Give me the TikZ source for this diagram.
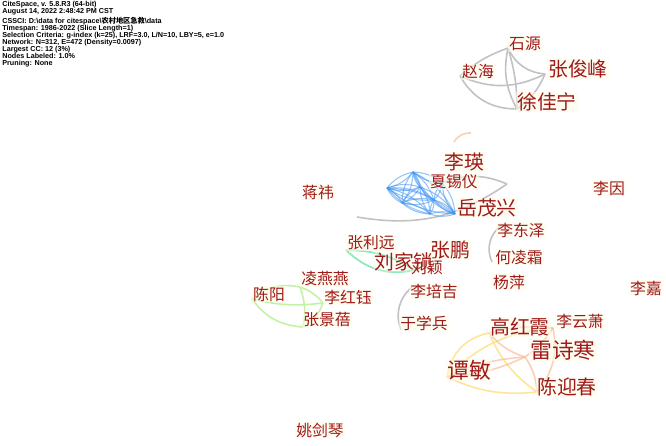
\documentclass[tikz,border=0pt]{standalone}
\usepackage{fontspec}
\setmainfont{Liberation Sans}
\newfontfamily\cjk{Noto Sans CJK SC}
\definecolor{labelred}{HTML}{9E1A1A}
\definecolor{labelbg}{HTML}{FFFDE8}
\definecolor{linkgray}{HTML}{C2C2C2}
\definecolor{linkblue}{HTML}{3F93F2}
\definecolor{linkgreen}{HTML}{C4F2A4}
\definecolor{linkmint}{HTML}{8EE8BC}
\definecolor{linkyellow}{HTML}{FFE07A}
\definecolor{linkorange}{HTML}{F6BE98}

\begin{document}
\begin{tikzpicture}[x=0.02cm,y=-0.02cm,
  au/.style={fill=labelbg,fill opacity=0.55,text opacity=1,text=labelred,
    inner sep=0.6pt,font=\cjk\fontsize{9}{9}\selectfont},
  aubig/.style={au,font=\cjk\fontsize{11.3}{11.3}\selectfont},
  auhuge/.style={au,font=\cjk\fontsize{12.4}{12.4}\selectfont},
  info/.style={align=left,inner sep=0pt,anchor=north west,
    font=\bfseries\fontsize{4.1}{4.0}\selectfont},
  graylink/.style={draw=linkgray,line width=0.9pt},
  bluelink/.style={draw=linkblue,line width=0.6pt,opacity=0.55},
  greenlink/.style={draw=linkgreen,line width=0.9pt},
  mintlink/.style={draw=linkmint,line width=1pt},
  yellowlink/.style={draw=linkyellow,line width=0.9pt,opacity=0.8},
  orangelink/.style={draw=linkorange,line width=0.9pt,opacity=0.7}]

  \fill[white] (0,0) rectangle (666,446);
  \useasboundingbox (0,0) rectangle (666,446);

  \node[info] (info) at (2,1) {CiteSpace, v. 5.8.R3 (64-bit)\\
    August 14, 2022 2:48:42 PM CST\\
    CSSCI: D:\textbackslash data for citespace\textbackslash{\cjk 农村地区急救}\textbackslash data\\
    Timespan: 1986-2022 (Slice Length=1)\\
    Selection Criteria: g-index (k=25), LRF=3.0, L/N=10, LBY=5, e=1.0\\
    Network: N=312, E=472 (Density=0.0097)\\
    Largest CC: 12 (3\%)\\
    Nodes Labeled: 1.0\%\\
    Pruning: None};

  % cluster points
  \coordinate (zh) at (460,76);
  \coordinate (sy) at (508,48);
  \coordinate (zj) at (545,74);
  \coordinate (xj) at (517,109);

  \coordinate (b1) at (387,188);
  \coordinate (b2) at (413,172);
  \coordinate (b3) at (420,187);
  \coordinate (b4) at (402,203);
  \coordinate (b5) at (434,200);
  \coordinate (b6) at (430,214);
  \coordinate (b7) at (455,214);
  \coordinate (b8) at (442,183);
  \coordinate (gx) at (507,184);
  \coordinate (gy) at (357,217);

  \coordinate (ld1) at (502,225);
  \coordinate (ld2) at (492,262);
  \coordinate (lp1) at (412,287);
  \coordinate (lp2) at (401,330);
  \coordinate (or1) at (471,133);
  \coordinate (or2) at (454,142);

  \coordinate (zly) at (346,250);
  \coordinate (ljs) at (415,270);

  \coordinate (chy) at (252,299);
  \coordinate (lyy) at (300,287);
  \coordinate (lhy) at (323,303);
  \coordinate (zjb) at (303,327);

  \coordinate (gh) at (489,333);
  \coordinate (lys) at (553,328);
  \coordinate (lsh) at (525,357);
  \coordinate (tm) at (447,377);
  \coordinate (cyc) at (537,392);

  % links
  \draw[graylink] (zh) to[bend left=10] (sy);
  \draw[graylink] (zh) to[bend right=25] (zj);
  \draw[graylink] (zh) to[bend right=30] (xj);
  \draw[graylink] (sy) to[bend right=30] (zj);
  \draw[graylink] (sy) to[bend right=20] (xj);
  \draw[graylink] (sy) to[bend left=8] (xj);
  \draw[graylink] (zj) to[bend left=15] (xj);

  \draw[graylink] (b8) to[bend left=22] (gx);
  \draw[graylink] (gy) to[bend right=22] (gx);
  \draw[graylink] (ld1) to[bend right=40] (ld2);
  \draw[graylink] (lp1) to[bend right=35] (lp2);
  \draw[orangelink] (or1) to[bend right=30] (or2);

  \foreach \a/\b in {b1/b2,b1/b3,b1/b4,b1/b5,b1/b6,b1/b7,b2/b3,b2/b4,b2/b5,
      b2/b7,b2/b8,b3/b4,b3/b6,b3/b7,b4/b6,b4/b5,b5/b6,b5/b7,b6/b7,b8/b7,b8/b5}{
    \draw[bluelink] (\a) to[bend left=18] (\b);
    \draw[bluelink] (\a) to[bend right=18] (\b);
  }

  \draw[mintlink] (zly) to[bend left=15] (ljs);
  \draw[mintlink] (zly) to[bend right=28] (ljs);

  \draw[greenlink] (chy) to[bend left=25] (lyy);
  \draw[greenlink] (chy) to[bend right=10] (lhy);
  \draw[greenlink] (chy) to[bend right=25] (zjb);
  \draw[greenlink] (lyy) to[bend left=15] (lhy);
  \draw[greenlink] (lyy) to[bend left=15] (zjb);
  \draw[greenlink] (lhy) to[bend left=20] (zjb);

  \draw[yellowlink] (tm) to[bend left=35] (gh);
  \draw[yellowlink] (tm) to[bend left=20] (lys);
  \draw[yellowlink] (tm) to[bend right=15] (cyc);
  \draw[yellowlink] (gh) to[bend right=15] (cyc);
  \draw[orangelink] (tm) to[bend left=10] (lsh);
  \draw[orangelink] (tm) to[bend right=10] (lsh);
  \draw[orangelink] (gh) to[bend left=10] (lys);
  \draw[orangelink] (gh) to[bend right=15] (lsh);
  \draw[orangelink] (lys) to[bend left=10] (lsh);
  \draw[orangelink] (lys) to[bend left=25] (cyc);
  \draw[orangelink] (lsh) to[bend left=15] (cyc);

  % author labels
  \node[au] (shiyuan) at (525,44) {石源};
  \node[au] (zhaohai) at (478,72) {赵海};
  \node[aubig] (zhangjunfeng) at (578,69) {张俊峰};
  \node[aubig] (xujianing) at (547,102) {徐佳宁};
  \node[aubig] (liying) at (464,162) {李瑛};
  \node[au] (xiaxiyi) at (454,182) {夏锡仪};
  \node[aubig] (yuemaoxing) at (487,208) {岳茂兴};
  \node[au] (jiangyi) at (318,192) {蒋祎};
  \node[au] (liyin) at (609,188) {李因};
  \node[au] (lidongze) at (521,230) {李东泽};
  \node[au] (zhangliyuan) at (371,243) {张利远};
  \node[aubig] (zhangpeng) at (450,250) {张鹏};
  \node[au] (helingshuang) at (519,257) {何凌霜};
  \node[aubig,fill opacity=0.3] (liujiasuo) at (404,262) {刘家锁};
  \node[au,fill opacity=0.2] (liuying) at (427,267) {刘颖};
  \node[au] (lingyanyan) at (325,279) {凌燕燕};
  \node[au] (yangping) at (509,282) {杨萍};
  \node[au] (chenyang) at (269,294) {陈阳};
  \node[au] (lihongyu) at (348,297) {李红钰};
  \node[au] (lipeiji) at (434,292) {李培吉};
  \node[au] (lijia) at (646,288) {李嘉};
  \node[au] (zhangjingbei) at (327,320) {张景蓓};
  \node[au] (yuxuebing) at (424,323) {于学兵};
  \node[aubig] (gaohongxia) at (520,327) {高红霞};
  \node[au] (liyunxiao) at (580,322) {李云萧};
  \node[auhuge] (leishihan) at (563,350) {雷诗寒};
  \node[auhuge] (tanmin) at (469,370) {谭敏};
  \node[aubig] (chenyingchun) at (567,387) {陈迎春};
  \node[au] (yaojianqin) at (320,430) {姚剑琴};
\end{tikzpicture}
\end{document}
